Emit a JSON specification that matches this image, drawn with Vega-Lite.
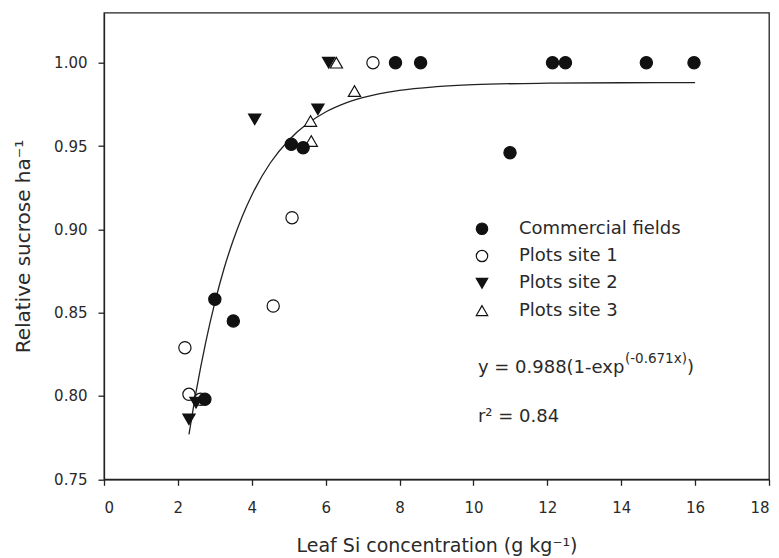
{
  "$schema": "https://vega.github.io/schema/vega-lite/v6.json",
  "autosize": "none",
  "width": 665,
  "height": 466.6,
  "padding": {"left": 104, "top": 12.7, "right": 10, "bottom": 78.7},
  "background": "white",
  "config": {
    "view": {"stroke": "#222", "strokeWidth": 1.3},
    "font": "DejaVu Sans",
    "axis": {
      "domainColor": "#222",
      "domainWidth": 1.3,
      "tickColor": "#222",
      "tickWidth": 1.3,
      "tickSize": 6,
      "grid": false,
      "labelFont": "DejaVu Sans",
      "labelFontSize": 15,
      "labelColor": "#2a2a2a",
      "titleFont": "DejaVu Sans",
      "titleFontWeight": "normal",
      "titleColor": "#2a2a2a"
    }
  },
  "layer": [
    {
      "data": {"values": [
        {"x": 2.3, "y": 0.7769}, {"x": 2.5, "y": 0.8034}, {"x": 2.75, "y": 0.8319},
        {"x": 3.0, "y": 0.8560}, {"x": 3.25, "y": 0.8765}, {"x": 3.5, "y": 0.8936},
        {"x": 3.75, "y": 0.9082}, {"x": 4.0, "y": 0.9205}, {"x": 4.5, "y": 0.9398},
        {"x": 5.0, "y": 0.9535}, {"x": 5.5, "y": 0.9633}, {"x": 6.0, "y": 0.9704},
        {"x": 6.5, "y": 0.9754}, {"x": 7.0, "y": 0.9790}, {"x": 8.0, "y": 0.9834},
        {"x": 9.0, "y": 0.9856}, {"x": 10.0, "y": 0.9868}, {"x": 12.0, "y": 0.9877},
        {"x": 14.0, "y": 0.98797}, {"x": 16.0, "y": 0.98799}
      ]},
      "mark": {"type": "line", "color": "#222", "strokeWidth": 1.3, "interpolate": "monotone"},
      "encoding": {
        "x": {
          "field": "x", "type": "quantitative",
          "scale": {"domain": [0, 18], "nice": false, "zero": false},
          "axis": {
            "values": [0,1,2,3,4,5,6,7,8,9,10,11,12,13,14,15,16,17,18],
            "labelExpr": "datum.value % 2 == 0 ? datum.label : ''",
            "labelPadding": 15,
            "title": "Leaf Si concentration (g kg⁻¹)",
            "titleFontSize": 19,
            "titlePadding": 21
          }
        },
        "y": {
          "field": "y", "type": "quantitative",
          "scale": {"domain": [0.75, 1.03], "nice": false, "zero": false},
          "axis": {
            "values": [0.75, 0.8, 0.85, 0.9, 0.95, 1.0],
            "format": ".2f",
            "labelPadding": 11,
            "title": "Relative sucrose ha⁻¹",
            "titleFontSize": 20,
            "titlePadding": 20
          }
        }
      }
    },
    {
      "data": {"values": [
        {"group": "Plots site 1", "x": 2.19, "y": 0.829},
        {"group": "Plots site 1", "x": 2.30, "y": 0.801},
        {"group": "Plots site 1", "x": 2.61, "y": 0.798},
        {"group": "Plots site 1", "x": 4.58, "y": 0.854},
        {"group": "Plots site 1", "x": 5.09, "y": 0.907},
        {"group": "Plots site 1", "x": 7.28, "y": 1.0},
        {"group": "Plots site 3", "x": 5.59, "y": 0.965},
        {"group": "Plots site 3", "x": 5.61, "y": 0.953},
        {"group": "Plots site 3", "x": 6.29, "y": 1.0},
        {"group": "Plots site 3", "x": 6.78, "y": 0.983},
        {"group": "Plots site 2", "x": 2.30, "y": 0.786},
        {"group": "Plots site 2", "x": 2.49, "y": 0.796},
        {"group": "Plots site 2", "x": 4.08, "y": 0.966},
        {"group": "Plots site 2", "x": 5.79, "y": 0.972},
        {"group": "Plots site 2", "x": 6.08, "y": 1.0},
        {"group": "Commercial fields", "x": 2.73, "y": 0.798},
        {"group": "Commercial fields", "x": 3.0, "y": 0.858},
        {"group": "Commercial fields", "x": 3.5, "y": 0.845},
        {"group": "Commercial fields", "x": 5.07, "y": 0.951},
        {"group": "Commercial fields", "x": 5.39, "y": 0.949},
        {"group": "Commercial fields", "x": 7.89, "y": 1.0},
        {"group": "Commercial fields", "x": 8.57, "y": 1.0},
        {"group": "Commercial fields", "x": 10.99, "y": 0.946},
        {"group": "Commercial fields", "x": 12.14, "y": 1.0},
        {"group": "Commercial fields", "x": 12.49, "y": 1.0},
        {"group": "Commercial fields", "x": 14.68, "y": 1.0},
        {"group": "Commercial fields", "x": 15.97, "y": 1.0}
      ]},
      "mark": {"type": "point", "filled": true, "stroke": "#111", "strokeWidth": 1.2, "opacity": 1, "size": 150},
      "encoding": {
        "x": {"field": "x", "type": "quantitative"},
        "y": {"field": "y", "type": "quantitative"},
        "shape": {
          "field": "group", "type": "nominal",
          "scale": {"domain": ["Commercial fields", "Plots site 1", "Plots site 2", "Plots site 3"],
                    "range": ["circle", "circle", "triangle-down", "triangle-up"]},
          "legend": {
            "orient": "none", "legendX": 369, "legendY": 207, "title": null,
            "labelFont": "DejaVu Sans", "labelFontSize": 18, "labelColor": "#2a2a2a", "labelLimit": 400,
            "labelOffset": 28, "rowPadding": 9.3, "symbolSize": 130,
            "symbolStrokeColor": "#111", "symbolStrokeWidth": 1.2, "symbolOpacity": 1,
            "encode": {"symbols": {"update": {"stroke": {"value": "#111"}, "strokeWidth": {"value": 1.2}}}}
          }
        },
        "fill": {
          "field": "group", "type": "nominal",
          "scale": {"domain": ["Commercial fields", "Plots site 1", "Plots site 2", "Plots site 3"],
                    "range": ["#111", "white", "#111", "white"]},
          "legend": {
            "orient": "none", "legendX": 369, "legendY": 207, "title": null,
            "labelFont": "DejaVu Sans", "labelFontSize": 18, "labelColor": "#2a2a2a", "labelLimit": 400,
            "labelOffset": 28, "rowPadding": 9.3, "symbolSize": 130,
            "symbolStrokeColor": "#111", "symbolStrokeWidth": 1.2, "symbolOpacity": 1,
            "encode": {"symbols": {"update": {"stroke": {"value": "#111"}, "strokeWidth": {"value": 1.2}}}}
          }
        }
      }
    },
    {
      "data": {"values": [
        {"x": 10.12, "y": 0.8138, "t": "y = 0.988(1-exp"},
        {"x": 10.12, "y": 0.7846, "t": "r² = 0.84"},
        {"x": 15.78, "y": 0.8138, "t": ")"}
      ]},
      "mark": {"type": "text", "align": "left", "baseline": "alphabetic", "fontSize": 18, "font": "DejaVu Sans", "color": "#2a2a2a"},
      "encoding": {
        "x": {"field": "x", "type": "quantitative"},
        "y": {"field": "y", "type": "quantitative"},
        "text": {"field": "t"}
      }
    },
    {
      "data": {"values": [
        {"x": 14.1, "y": 0.8195, "t": "(-0.671x)"}
      ]},
      "mark": {"type": "text", "align": "left", "baseline": "alphabetic", "fontSize": 13.5, "font": "DejaVu Sans", "color": "#2a2a2a"},
      "encoding": {
        "x": {"field": "x", "type": "quantitative"},
        "y": {"field": "y", "type": "quantitative"},
        "text": {"field": "t"}
      }
    }
  ]
}
